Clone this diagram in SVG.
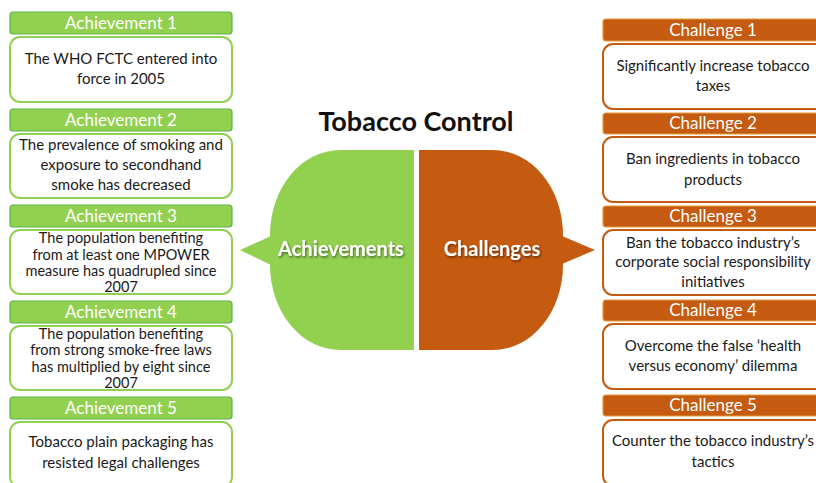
<svg xmlns="http://www.w3.org/2000/svg" width="816" height="483" viewBox="0 0 816 483">
<defs>
<style>
.hg{fill:#92D050;stroke:#5CB548;stroke-width:1.2}
.ho{fill:#C55A11;stroke:#E39A3A;stroke-width:1.2}
.bg{fill:#fff;stroke:#92D050;stroke-width:2}
.bo{fill:#fff;stroke:#C55A11;stroke-width:2}
.ht{font-family:Lato,"Open Sans",sans-serif;font-size:17px;fill:#fff;text-anchor:middle}
.bt{font-family:Lato,"Open Sans",sans-serif;font-size:15px;fill:#1a1a1a;text-anchor:middle}
.bs{font-family:Lato,"Open Sans",sans-serif;font-size:14.5px;fill:#1a1a1a;text-anchor:middle}
.big{font-family:Lato,"Open Sans",sans-serif;font-weight:bold;font-size:20px;fill:#fff;text-anchor:middle}
.title{font-family:Lato,"Open Sans",sans-serif;font-weight:bold;font-size:27px;fill:#111;text-anchor:middle}
</style>
<filter id="sh" x="-10%" y="-30%" width="130%" height="160%">
<feDropShadow dx="1" dy="1.5" stdDeviation="1" flood-color="#000" flood-opacity="0.5"/>
</filter>
</defs>
<rect width="816" height="483" fill="#fff"/>
<text class="title" x="416" y="131">Tobacco Control</text>
<g id="achievements">
<path d="M414,150 H340 A70,85 0 0 0 270,235 V265 A70,85 0 0 0 340,350 H414 Z" fill="#92D050"/>
<polygon points="240,250 271,236 271,265" fill="#92D050"/>
<text class="big" x="341" y="256" filter="url(#sh)">Achievements</text>
</g>
<g id="challenges">
<path d="M419,150 H493 A70,85 0 0 1 563,235 V265 A70,85 0 0 1 493,350 H419 Z" fill="#C55A11"/>
<polygon points="595,250 562,236 562,264" fill="#C55A11"/>
<text class="big" x="492" y="256" filter="url(#sh)">Challenges</text>
</g>
<g id="connectors"></g>
<g id="a1">
<rect class="hg" x="10" y="12" width="222" height="22" rx="3"/>
<text class="ht" x="121" y="29">Achievement 1</text>
<rect class="bg" x="10" y="37" width="222" height="65" rx="10"/>
<text class="bt" x="121" y="64">The WHO FCTC entered into</text>
<text class="bt" x="121" y="84">force in 2005</text>
</g>
<g id="a2">
<rect class="hg" x="10" y="109" width="222" height="22" rx="3"/>
<text class="ht" x="121" y="126">Achievement 2</text>
<rect class="bg" x="10" y="134" width="222" height="64" rx="10"/>
<text class="bt" x="121" y="150">The prevalence of smoking and</text>
<text class="bt" x="121" y="170">exposure to secondhand</text>
<text class="bt" x="121" y="190">smoke has decreased</text>
</g>
<g id="a3">
<rect class="hg" x="10" y="205" width="222" height="22" rx="3"/>
<text class="ht" x="121" y="222">Achievement 3</text>
<rect class="bg" x="10" y="230" width="222" height="64" rx="10"/>
<text class="bs" x="121" y="243">The population benefiting</text>
<text class="bs" x="121" y="259.5">from at least one MPOWER</text>
<text class="bs" x="121" y="276">measure has quadrupled since</text>
<text class="bs" x="121" y="292">2007</text>
</g>
<g id="a4">
<rect class="hg" x="10" y="301" width="222" height="22" rx="3"/>
<text class="ht" x="121" y="318">Achievement 4</text>
<rect class="bg" x="10" y="326" width="222" height="64" rx="10"/>
<text class="bs" x="121" y="338.5">The population benefiting</text>
<text class="bs" x="121" y="355">from strong smoke-free laws</text>
<text class="bs" x="121" y="371.5">has multiplied by eight since</text>
<text class="bs" x="121" y="387.5">2007</text>
</g>
<g id="a5">
<rect class="hg" x="10" y="397" width="222" height="22" rx="3"/>
<text class="ht" x="121" y="414">Achievement 5</text>
<rect class="bg" x="10" y="422" width="222" height="65" rx="10"/>
<text class="bt" x="121" y="447">Tobacco plain packaging has</text>
<text class="bt" x="121" y="468">resisted legal challenges</text>
</g>
<g id="c1">
<rect class="ho" x="603" y="19" width="222" height="22" rx="3"/>
<text class="ht" x="713" y="36">Challenge 1</text>
<rect class="bo" x="603" y="44" width="222" height="65" rx="10"/>
<text class="bt" x="713" y="71">Significantly increase tobacco</text>
<text class="bt" x="713" y="91">taxes</text>
</g>
<g id="c2">
<rect class="ho" x="603" y="113" width="222" height="21" rx="3"/>
<text class="ht" x="713" y="129">Challenge 2</text>
<rect class="bo" x="603" y="137" width="222" height="65" rx="10"/>
<text class="bt" x="713" y="164">Ban ingredients in tobacco</text>
<text class="bt" x="713" y="185">products</text>
</g>
<g id="c3">
<rect class="ho" x="603" y="206" width="222" height="21" rx="3"/>
<text class="ht" x="713" y="222">Challenge 3</text>
<rect class="bo" x="603" y="230" width="222" height="65" rx="10"/>
<text class="bt" x="713" y="248">Ban the tobacco industry’s</text>
<text class="bt" x="713" y="267">corporate social responsibility</text>
<text class="bt" x="713" y="287">initiatives</text>
</g>
<g id="c4">
<rect class="ho" x="603" y="300" width="222" height="21" rx="3"/>
<text class="ht" x="713" y="316">Challenge 4</text>
<rect class="bo" x="603" y="324" width="222" height="65" rx="10"/>
<text class="bt" x="713" y="351">Overcome the false ‘health</text>
<text class="bt" x="713" y="371">versus economy’ dilemma</text>
</g>
<g id="c5">
<rect class="ho" x="603" y="395" width="222" height="21" rx="3"/>
<text class="ht" x="713" y="411">Challenge 5</text>
<rect class="bo" x="603" y="420" width="222" height="66" rx="10"/>
<text class="bt" x="713" y="446">Counter the tobacco industry’s</text>
<text class="bt" x="713" y="467">tactics</text>
</g>
</svg>
